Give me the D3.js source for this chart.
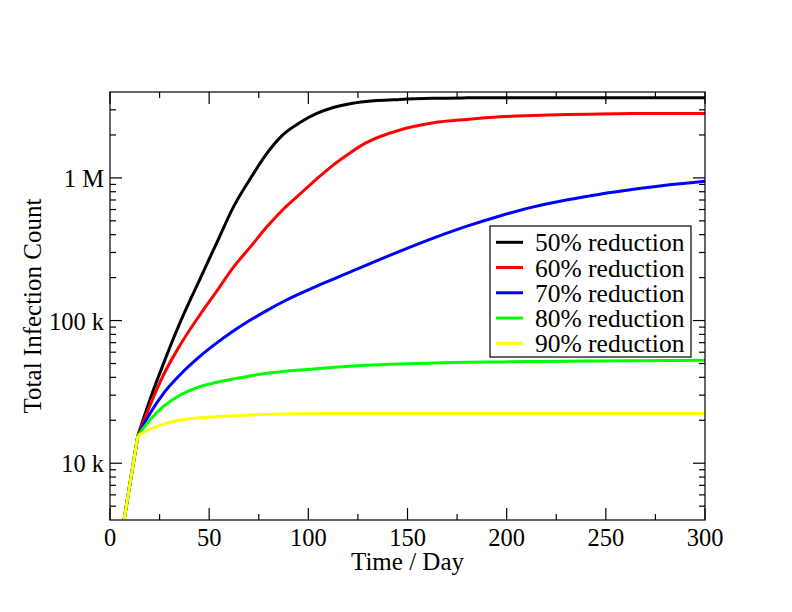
<!DOCTYPE html>
<html>
<head>
<meta charset="utf-8">
<script src="https://cdn.jsdelivr.net/npm/d3@7/dist/d3.min.js"></script>
<style>
	body { margin: 0; background: #fff; }
	text { font-family: "Liberation Serif", "Times New Roman", serif; fill: #000; }
</style>
</head>
<body>
<script>
// values
const days = [0, 14, 20, 27, 35, 45, 54, 62, 71, 79, 87, 96, 104, 113, 121, 129, 146, 163, 180, 197, 213, 230, 247, 264, 281, 300];

const reduction50 = [1000, 15500, 27540, 50120, 94410, 190500, 354800, 616600, 1000000, 1479000, 1995000, 2455000, 2818000, 3126000, 3311000, 3428000, 3548000, 3614000, 3639000, 3648000, 3650000, 3650000, 3650000, 3650000, 3650000, 3650000];
const reduction60 = [1000, 15500, 25100, 41700, 66100, 108000, 162000, 234000, 331000, 452000, 596000, 776000, 977000, 1245000, 1496000, 1758000, 2163000, 2432000, 2570000, 2680000, 2735000, 2780000, 2805000, 2822000, 2830000, 2830000];
const reduction70 = [1000, 15500, 22130, 30900, 41210, 55590, 69980, 84140, 101200, 117500, 134900, 154900, 173800, 196300, 218800, 243800, 305500, 378400, 459200, 543300, 623700, 699800, 769100, 831800, 891300, 948400];
const reduction80 = [1000, 15500, 20000, 25000, 29800, 34300, 37000, 39000, 41000, 42700, 44000, 45000, 46000, 47000, 47900, 48600, 49700, 50500, 51000, 51300, 51600, 51900, 52100, 52300, 52500, 52700];
const reduction90 = [1000, 15500, 17300, 18800, 20000, 20800, 21200, 21500, 21800, 22000, 22100, 22200, 22250, 22300, 22300, 22300, 22300, 22300, 22300, 22300, 22300, 22300, 22300, 22300, 22300, 22300];

const seriesNames = ['50% reduction', '60% reduction', '70% reduction', '80% reduction', '90% reduction'];
const seriesValues = [reduction50, reduction60, reduction70, reduction80, reduction90];
const seriesColors = ['#000000', '#ff0000', '#0000ff', '#00ff00', '#ffff00'];

const xMajorTicks = [0, 50, 100, 150, 200, 250, 300];
const xMinorTicks = [25, 75, 125, 175, 225, 275];
const yMajorTicks = [1e4, 1e5, 1e6];
const yTickLabels = ['10 k', '100 k', '1 M'];

const width = 792, height = 612;
const plotLeft = 110, plotRight = 705, plotTop = 92, plotBottom = 520;
const majorLen = 12, minorLen = 6;

let svg = d3.select('body').append('svg')
	.attr('width', width)
	.attr('height', height);

let x = d3.scaleLinear().domain([0, 300]).range([plotLeft, plotRight]);
let y = d3.scaleLog().domain([4000, 4e6]).range([plotBottom, plotTop]);

svg.append('clipPath').attr('id', 'plot')
	.append('rect')
	.attr('x', plotLeft).attr('y', plotTop)
	.attr('width', plotRight - plotLeft).attr('height', plotBottom - plotTop);

// curves: the steep lead-in is straight, the rest is smooth
let lines = svg.append('g').attr('clip-path', 'url(#plot)');
let straight = d3.line().x(d => x(d[0])).y(d => y(d[1]));
let smooth = d3.line().x(d => x(d[0])).y(d => y(d[1])).curve(d3.curveMonotoneX);

seriesValues.forEach((vals, i) => {
	let pts = days.map((d, j) => [d, vals[j]]);
	let lead = pts.filter(p => p[0] <= 14);
	let rest = pts.filter(p => p[0] >= 14);
	[[lead, straight], [rest, smooth]].forEach(([p, gen]) => {
		lines.append('path')
			.attr('d', gen(p))
			.attr('fill', 'none')
			.attr('stroke', seriesColors[i])
			.attr('stroke-width', 3)
			.attr('stroke-linejoin', 'round');
	});
});

// frame and inward ticks on all sides
let axes = svg.append('g')
	.attr('stroke', '#000')
	.attr('stroke-width', 1.2)
	.attr('fill', 'none');

axes.append('rect')
	.attr('x', plotLeft).attr('y', plotTop)
	.attr('width', plotRight - plotLeft).attr('height', plotBottom - plotTop);

function xTick(v, len) {
	axes.append('line').attr('x1', x(v)).attr('x2', x(v)).attr('y1', plotBottom).attr('y2', plotBottom - len);
	axes.append('line').attr('x1', x(v)).attr('x2', x(v)).attr('y1', plotTop).attr('y2', plotTop + len);
}
function yTick(v, len) {
	axes.append('line').attr('y1', y(v)).attr('y2', y(v)).attr('x1', plotLeft).attr('x2', plotLeft + len);
	axes.append('line').attr('y1', y(v)).attr('y2', y(v)).attr('x1', plotRight).attr('x2', plotRight - len);
}

xMajorTicks.forEach(v => xTick(v, majorLen));
xMinorTicks.forEach(v => xTick(v, minorLen));
y.ticks().forEach(v => {
	let major = yMajorTicks.indexOf(v) >= 0;
	if (v > y.domain()[0] && v < y.domain()[1])
		yTick(v, major ? majorLen : minorLen);
});

svg.append('g').selectAll('text')
	.data(xMajorTicks)
	.enter().append('text')
	.attr('x', d => x(d))
	.attr('y', 546)
	.attr('text-anchor', 'middle')
	.style('font-size', '24.5px')
	.text(d => d);

svg.append('g').selectAll('text')
	.data(yMajorTicks)
	.enter().append('text')
	.attr('x', plotLeft - 6)
	.attr('y', d => y(d) + 9)
	.attr('text-anchor', 'end')
	.style('font-size', '24.5px')
	.text((d, i) => yTickLabels[i]);

svg.append('text')
	.attr('x', (plotLeft + plotRight) / 2)
	.attr('y', 570)
	.attr('text-anchor', 'middle')
	.style('font-size', '25px')
	.text('Time / Day');

svg.append('text')
	.attr('transform', 'translate(41,306) rotate(-90)')
	.attr('text-anchor', 'middle')
	.style('font-size', '25px')
	.text('Total Infection Count');

// legend
let legend = svg.append('g');
legend.append('rect')
	.attr('x', 490).attr('y', 226)
	.attr('width', 201).attr('height', 131)
	.attr('fill', '#fff')
	.attr('stroke', '#000')
	.attr('stroke-width', 1.2);

seriesNames.forEach((name, i) => {
	let ly = 242.3 + i * 25.25;
	legend.append('line')
		.attr('x1', 496).attr('x2', 523)
		.attr('y1', ly).attr('y2', ly)
		.attr('stroke', seriesColors[i])
		.attr('stroke-width', 3);
	legend.append('text')
		.attr('x', 535)
		.attr('y', ly + 9)
		.style('font-size', '25.5px')
		.text(name);
});
</script>
</body>
</html>
